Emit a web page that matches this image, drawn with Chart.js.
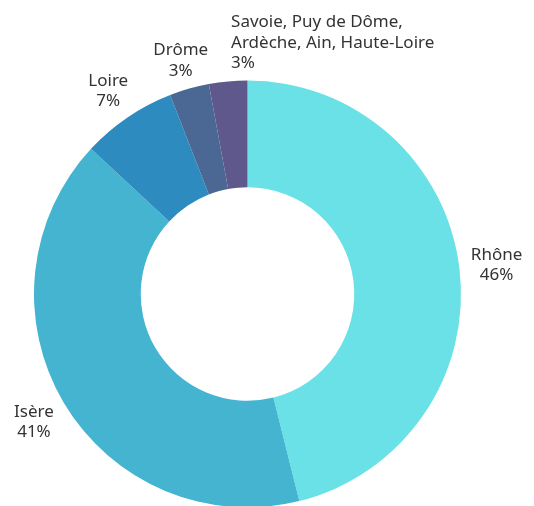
<!DOCTYPE html>
<html>
<head>
<meta charset="utf-8">
<script src="https://cdn.jsdelivr.net/npm/chart.js@4"></script>
<style>
  html, body { margin: 0; padding: 0; background: #fff; overflow: hidden; }
  #wrap { width: 534px; height: 510px; }
</style>
</head>
<body>
<div id="wrap"><canvas id="chartDep"></canvas></div>
<script>
// départements, share of total (%)
const labels = ['Rhône', 'Isère', 'Loire', 'Drôme', 'Savoie, Puy de Dôme,\nArdèche, Ain, Haute-Loire'];
const values = [46.1, 40.8, 7.2, 3.0, 2.9];
const colors = ['#6ae1e6', '#44b4d1', '#2e8bc0', '#4a6893', '#5e588c'];

// étiquettes autour de l'anneau
const outLabels = {
    id: 'outLabels',
    afterDraw(chart) {
        const ctx = chart.ctx;
        const meta = chart.getDatasetMeta(0);
        const total = values.reduce((a, b) => a + b, 0);
        const lh = 20.5;
        ctx.save();
        ctx.font = '17px "Noto Sans", sans-serif';
        ctx.fillStyle = '#333';
        ctx.textBaseline = 'middle';
        meta.data.forEach((arc, i) => {
            const p = arc.getProps(['x', 'y', 'startAngle', 'endAngle', 'outerRadius'], true);
            const mid = (p.startAngle + p.endAngle) / 2;
            const lines = labels[i].split('\n');
            lines.push(Math.round(values[i] / total * 100) + '%');
            const w = Math.max(...lines.map(t => ctx.measureText(t).width));
            const h = (lines.length - 1) * lh + 17;
            const cx = Math.cos(mid), cy = Math.sin(mid);
            // la boîte touche le cercle de rayon r0
            const r0 = p.outerRadius + 11.5;
            const off = Math.min(w / 2 / Math.max(Math.abs(cx), 1e-6), h / 2 / Math.max(Math.abs(cy), 1e-6));
            let x = p.x + cx * (r0 + off);
            let y = p.y + cy * (r0 + off) + 2;
            if (w > 150) {
                // trop large : texte aligné à gauche depuis le point d'ancrage
                ctx.textAlign = 'left';
                x = p.x + cx * p.outerRadius + 3;
            } else {
                ctx.textAlign = 'center';
            }
            const y0 = y - (lines.length - 1) * lh / 2;
            lines.forEach((t, k) => ctx.fillText(t, x, y0 + k * lh));
        });
        ctx.restore();
    }
};

const ctx = document.getElementById('chartDep').getContext('2d');
new Chart(ctx, {
    type: 'doughnut',
    data: {
        labels: labels,
        datasets: [{
            data: values,
            backgroundColor: colors,
            borderWidth: 0,
        }],
    },
    options: {
        responsive: true,
        maintainAspectRatio: false,
        animation: false,
        cutout: '50%',
        layout: { padding: { left: 34, right: 73, top: 80.5, bottom: 2.5 } },
        plugins: {
            legend: { display: false },
            tooltip: { enabled: false },
        },
    },
    plugins: [outLabels],
});
</script>
</body>
</html>
